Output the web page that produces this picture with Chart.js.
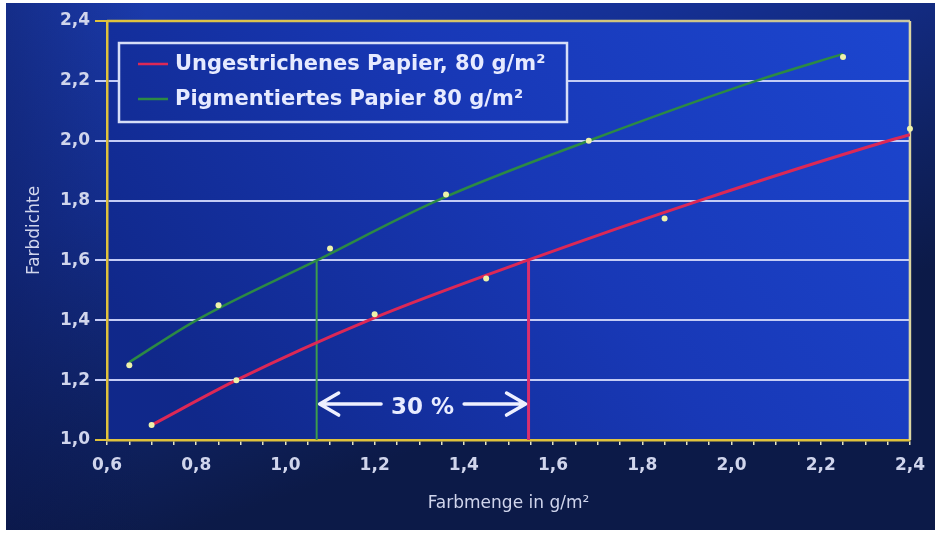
<!DOCTYPE html>
<html>
<head>
<meta charset="utf-8">
<script src="https://cdn.jsdelivr.net/npm/chart.js@4/dist/chart.umd.min.js"></script>
<style>
  html, body { margin: 0; padding: 0; background: #ffffff; width: 935px; height: 538px; overflow: hidden; }
  #wrap { position: absolute; left: 6px; top: 3px; width: 929px; height: 527px; }
</style>
</head>
<body>
<div id="wrap"><canvas id="c"></canvas></div>
<script>
// Tick labels (German decimal comma)
const xTickValues = [0.6, 0.8, 1.0, 1.2, 1.4, 1.6, 1.8, 2.0, 2.2, 2.4];
const xTickLabels = ['0,6', '0,8', '1,0', '1,2', '1,4', '1,6', '1,8', '2,0', '2,2', '2,4'];
const yTickValues = [1.0, 1.2, 1.4, 1.6, 1.8, 2.0, 2.2, 2.4];
const yTickLabels = ['1,0', '1,2', '1,4', '1,6', '1,8', '2,0', '2,2', '2,4'];

// Series names
const seriesNames = ['Ungestrichenes Papier, 80 g/m²', 'Pigmentiertes Papier 80 g/m²'];

// Measured points: ink amount (g/m²) vs. optical density
const uncoatedX = [0.70, 0.89, 1.20, 1.45, 1.85, 2.40];
const uncoatedY = [1.05, 1.20, 1.42, 1.54, 1.74, 2.04];
const pigmentedX = [0.65, 0.85, 1.10, 1.36, 1.68, 2.25];
const pigmentedY = [1.25, 1.45, 1.64, 1.82, 2.00, 2.28];

// Trend curves through the measurements
const uncoatedTrendX = [0.70, 0.89, 1.186, 1.542, 1.928, 2.352, 2.40];
const uncoatedTrendY = [1.05, 1.20, 1.40, 1.60, 1.80, 2.00, 2.02];
const pigmentedTrendX = [0.65, 0.80, 1.07, 1.34, 1.68, 2.055, 2.25];
const pigmentedTrendY = [1.26, 1.40, 1.60, 1.80, 2.00, 2.20, 2.29];

// Ink needed for density 1.6 on each paper, and the saving between them
const targetDensity = 1.6;
const pigmentedInkAtTarget = 1.07;
const uncoatedInkAtTarget = 1.545;
const savingArrowDensity = 1.12;
const savingLabel = '30 %';

const xTitle = 'Farbmenge in g/m²';
const yTitle = 'Farbdichte';

const FONT = '"DejaVu Sans", "Liberation Sans", sans-serif';
const TEXT = '#d0d5ec';
const YELLOW = '#e0c23c';
const GRID = '#c4ccf6';
const RED = '#dc2856';
const GREEN = '#2c8a44';
const DOT = '#eef2aa';

const pts = (xs, ys) => xs.map((x, i) => ({ x, y: ys[i] }));
const labelFor = (vals, labels, v) => {
  const i = vals.findIndex(t => Math.abs(t - v) < 1e-6);
  return i >= 0 ? labels[i] : '';
};

let plotGradient = null;

const backgroundPlugin = {
  id: 'backdrop',
  beforeDraw(chart) {
    const { ctx, width, height, chartArea: a } = chart;
    ctx.save();
    // page backdrop: bright at the top, navy towards the bottom
    const bg = ctx.createLinearGradient(0, 0, width * 0.2, height);
    bg.addColorStop(0, '#1c3db2');
    bg.addColorStop(0.4, '#153094');
    bg.addColorStop(0.78, '#0f2262');
    bg.addColorStop(1, '#0c1a48');
    ctx.fillStyle = bg;
    ctx.fillRect(0, 0, width, height);
    // darker towards the left edge
    const side = ctx.createLinearGradient(0, 0, a.left + 40, 0);
    side.addColorStop(0, 'rgba(8,16,60,0.35)');
    side.addColorStop(1, 'rgba(8,16,60,0)');
    ctx.fillStyle = side;
    ctx.fillRect(0, 0, a.left + 40, height);
    // plot area
    plotGradient = ctx.createLinearGradient(a.right, a.top, a.left + 150, a.bottom + 60);
    plotGradient.addColorStop(0, '#1c46d0');
    plotGradient.addColorStop(0.5, '#1838b6');
    plotGradient.addColorStop(1, '#10288a');
    ctx.fillStyle = plotGradient;
    ctx.fillRect(a.left, a.top, a.right - a.left, a.bottom - a.top);
    ctx.restore();
  },
  beforeDatasetsDraw(chart) {
    const { ctx, chartArea: a } = chart;
    ctx.save();
    ctx.lineWidth = 2.5;
    const top = ctx.createLinearGradient(a.left, 0, a.right, 0);
    top.addColorStop(0, YELLOW);
    top.addColorStop(1, '#c8c6a4');
    ctx.strokeStyle = top;
    ctx.beginPath();
    ctx.moveTo(a.left, a.top);
    ctx.lineTo(a.right, a.top);
    ctx.stroke();
    ctx.strokeStyle = '#dcd6a2';
    ctx.beginPath();
    ctx.moveTo(a.right, a.top);
    ctx.lineTo(a.right, a.bottom);
    ctx.stroke();
    ctx.restore();
  }
};

const legendPlugin = {
  id: 'boxLegend',
  afterDatasetsDraw(chart) {
    const { ctx } = chart;
    const box = { x: 113, y: 40, w: 448, h: 79 };
    const colors = [RED, GREEN];
    ctx.save();
    ctx.fillStyle = plotGradient || '#1838b6';
    ctx.fillRect(box.x, box.y, box.w, box.h);
    ctx.strokeStyle = '#d6def8';
    ctx.lineWidth = 2.5;
    ctx.strokeRect(box.x, box.y, box.w, box.h);
    ctx.font = 'bold 21px ' + FONT;
    ctx.textBaseline = 'middle';
    seriesNames.forEach((name, i) => {
      const cy = box.y + 21 + i * 35;
      ctx.strokeStyle = colors[i];
      ctx.lineWidth = 2.5;
      ctx.beginPath();
      ctx.moveTo(box.x + 19, cy);
      ctx.lineTo(box.x + 49, cy);
      ctx.stroke();
      ctx.fillStyle = '#e6eaff';
      ctx.fillText(name, box.x + 56, cy + 1);
    });
    ctx.restore();
  }
};

const savingPlugin = {
  id: 'savingArrow',
  afterDatasetsDraw(chart) {
    const { ctx, scales: { x, y } } = chart;
    const x1 = x.getPixelForValue(pigmentedInkAtTarget);
    const x2 = x.getPixelForValue(uncoatedInkAtTarget);
    const yy = y.getPixelForValue(savingArrowDensity);
    const mid = (x1 + x2) / 2;
    ctx.save();
    ctx.font = 'bold 23px ' + FONT;
    const tw = ctx.measureText(savingLabel).width;
    ctx.strokeStyle = '#eef0ff';
    ctx.lineWidth = 3.5;
    ctx.lineCap = 'round';
    ctx.lineJoin = 'round';
    ctx.beginPath();
    ctx.moveTo(x1 + 3, yy);
    ctx.lineTo(mid - tw / 2 - 10, yy);
    ctx.moveTo(x1 + 22, yy - 11);
    ctx.lineTo(x1 + 3, yy);
    ctx.lineTo(x1 + 22, yy + 11);
    ctx.moveTo(mid + tw / 2 + 10, yy);
    ctx.lineTo(x2 - 3, yy);
    ctx.moveTo(x2 - 22, yy - 11);
    ctx.lineTo(x2 - 3, yy);
    ctx.lineTo(x2 - 22, yy + 11);
    ctx.stroke();
    ctx.fillStyle = '#e8ecff';
    ctx.textAlign = 'center';
    ctx.textBaseline = 'middle';
    ctx.fillText(savingLabel, mid, yy + 4);
    ctx.restore();
  }
};

new Chart(document.getElementById('c'), {
  type: 'scatter',
  data: {
    datasets: [
      {
        label: seriesNames[0] + ' Messwerte',
        data: pts(uncoatedX, uncoatedY),
        pointRadius: 3, pointBackgroundColor: DOT, pointBorderWidth: 0,
        showLine: false, clip: 6
      },
      {
        label: seriesNames[1] + ' Messwerte',
        data: pts(pigmentedX, pigmentedY),
        pointRadius: 3, pointBackgroundColor: DOT, pointBorderWidth: 0,
        showLine: false, clip: 6
      },
      {
        label: seriesNames[0],
        data: pts(uncoatedTrendX, uncoatedTrendY),
        showLine: true, pointRadius: 0, borderColor: RED, borderWidth: 3,
        cubicInterpolationMode: 'monotone'
      },
      {
        label: seriesNames[1],
        data: pts(pigmentedTrendX, pigmentedTrendY),
        showLine: true, pointRadius: 0, borderColor: GREEN, borderWidth: 2.5,
        cubicInterpolationMode: 'monotone'
      },
      {
        label: 'Farbmenge bei Dichte 1,6 (ungestrichen)',
        data: [{ x: uncoatedInkAtTarget, y: 1.0 }, { x: uncoatedInkAtTarget, y: targetDensity }],
        showLine: true, pointRadius: 0, borderColor: '#d8306e', borderWidth: 3
      },
      {
        label: 'Farbmenge bei Dichte 1,6 (pigmentiert)',
        data: [{ x: pigmentedInkAtTarget, y: 1.0 }, { x: pigmentedInkAtTarget, y: targetDensity }],
        showLine: true, pointRadius: 0, borderColor: '#3c9c4c', borderWidth: 2
      }
    ]
  },
  options: {
    responsive: true,
    maintainAspectRatio: false,
    animation: false,
    events: [],
    layout: { padding: { top: 18, right: 20, left: 0, bottom: 0 } },
    plugins: { legend: { display: false }, tooltip: { enabled: false } },
    scales: {
      x: {
        type: 'linear', min: 0.6, max: 2.4,
        afterFit(s) { s.height = 90; },
        ticks: {
          stepSize: 0.05, autoSkip: false, maxRotation: 0, minRotation: 0,
          padding: 10, color: TEXT,
          font: { family: FONT, size: 17, weight: 'bold' },
          callback: v => labelFor(xTickValues, xTickLabels, v)
        },
        grid: { drawOnChartArea: false, drawTicks: true, tickLength: 5, color: '#e4e2c0', lineWidth: 1.5 },
        border: { display: true, color: YELLOW, width: 2.5 },
        title: {
          display: true, text: xTitle, color: TEXT,
          font: { family: FONT, size: 17 },
          padding: { top: 0, bottom: 16 }
        }
      },
      y: {
        type: 'linear', min: 1.0, max: 2.4,
        afterFit(s) { s.width = 101; },
        ticks: {
          stepSize: 0.2, padding: 5, color: TEXT,
          font: { family: FONT, size: 17, weight: 'bold' },
          callback: v => labelFor(yTickValues, yTickLabels, v)
        },
        grid: {
          drawOnChartArea: true, drawTicks: true, tickLength: 12, lineWidth: 2,
          color: ctx => (ctx.tick && (Math.abs(ctx.tick.value - 1.0) < 1e-6 || Math.abs(ctx.tick.value - 2.4) < 1e-6)) ? YELLOW : GRID
        },
        border: { display: true, color: YELLOW, width: 2.5 },
        title: {
          display: true, text: yTitle, color: TEXT,
          font: { family: FONT, size: 17 },
          padding: { top: 18, bottom: 0 }
        }
      }
    }
  },
  plugins: [backgroundPlugin, legendPlugin, savingPlugin]
});
</script>
</body>
</html>
